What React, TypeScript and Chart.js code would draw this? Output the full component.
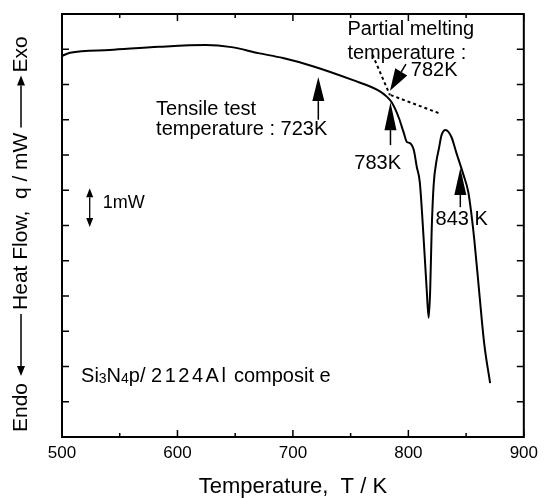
import React, { useEffect, useRef } from "react";
import { Chart, registerables } from "chart.js";

Chart.register(...registerables);

// DSC curve: temperature (K) and heat flow (arbitrary mW offset)
const temperatures = [
  500, 506.9, 541.2, 584.1, 624.5, 646.8, 670.0, 691.4, 717.2, 751.5, 774.7,
  781.5, 785.8, 791.8, 796.1, 798.7, 801.3, 804.7, 807.3, 809.9, 813.3, 815.9,
  817.6, 818.9, 820.2, 821.9, 824.5, 826.2, 828.8, 832.2, 837.3, 841.6, 847.6,
  851.9, 854.5, 857.1, 861.4, 865.7, 870.8,
];
const heatFlow = [
  10.81, 10.9, 10.98, 11.07, 11.12, 11.06, 10.89, 10.75, 10.52, 10.13, 9.82,
  9.65, 9.48, 9.05, 8.62, 8.37, 8.34, 8.14, 7.66, 7.23, 5.59, 4.17,
  3.38, 4.17, 5.87, 7.15, 7.86, 8.14, 8.57, 8.71, 8.51, 8.06, 7.45,
  6.95, 6.35, 5.6, 4.1, 2.65, 1.53,
];
// dotted tangent lines (onset construction)
const baselineTangentT = [784.7, 826.2];
const baselineTangentV = [9.7, 9.19];
const slopeTangentT = [769, 784];
const slopeTangentV = [10.84, 9.7];

const xTickValues = [500, 600, 700, 800, 900];
const xMinorValues = [550, 650, 750, 850];
const yTickValues = [1, 2, 3, 4, 5, 6, 7, 8, 9, 10, 11];

const FONT = "'Liberation Sans', Arial, Helvetica, sans-serif";

function drawArrow(
  ctx: CanvasRenderingContext2D,
  x1: number, y1: number, x2: number, y2: number,
  headLen: number, headW: number, lw: number
) {
  const ang = Math.atan2(y2 - y1, x2 - x1);
  const bx = x2 - Math.cos(ang) * headLen;
  const by = y2 - Math.sin(ang) * headLen;
  ctx.beginPath();
  ctx.lineWidth = lw;
  ctx.moveTo(x1, y1);
  ctx.lineTo(bx, by);
  ctx.stroke();
  const nx = -Math.sin(ang) * headW / 2;
  const ny = Math.cos(ang) * headW / 2;
  ctx.beginPath();
  ctx.moveTo(x2, y2);
  ctx.lineTo(bx + nx, by + ny);
  ctx.lineTo(bx - nx, by - ny);
  ctx.closePath();
  ctx.fill();
}

const annotPlugin = {
  id: "annot",
  afterDatasetsDraw(chart: any) {
    const ctx: CanvasRenderingContext2D = chart.ctx;
    const xs = chart.scales.x;
    const ys = chart.scales.y;
    const X = (t: number) => xs.getPixelForValue(t);
    const Y = (v: number) => ys.getPixelForValue(v);
    const { left, right, top, bottom } = chart.chartArea;
    ctx.save();
    ctx.strokeStyle = "#000";
    ctx.fillStyle = "#000";
    // frame
    ctx.lineWidth = 2;
    ctx.strokeRect(left, top, right - left, bottom - top);
    // ticks
    ctx.lineWidth = 1.5;
    ctx.beginPath();
    for (const t of xTickValues) {
      const x = X(t);
      ctx.moveTo(x, bottom); ctx.lineTo(x, bottom - 7);
      ctx.moveTo(x, top); ctx.lineTo(x, top + 7);
    }
    for (const t of xMinorValues) {
      const x = X(t);
      ctx.moveTo(x, bottom); ctx.lineTo(x, bottom - 4);
      ctx.moveTo(x, top); ctx.lineTo(x, top + 4);
    }
    for (const v of yTickValues) {
      const y = Y(v);
      ctx.moveTo(left, y); ctx.lineTo(left + 7, y);
      ctx.moveTo(right, y); ctx.lineTo(right - 7, y);
    }
    ctx.stroke();

    // arrows
    drawArrow(ctx, X(722), Y(9.0), X(722), Y(10.21), 24, 12, 1.5);
    drawArrow(ctx, X(784.5), Y(8.28), X(784.5), Y(9.5), 28, 12, 1.5);
    drawArrow(ctx, X(845), Y(6.52), X(845), Y(7.63), 27, 12, 1.5);
    drawArrow(ctx, X(797.9), Y(10.58), X(784.1), Y(9.82), 22, 14, 1.5);
    // 1mW double arrow
    drawArrow(ctx, X(524), Y(6.5), X(524), Y(7.06), 9, 7, 1.3);
    drawArrow(ctx, X(524), Y(6.5), X(524), Y(5.96), 9, 7, 1.3);

    // labels
    ctx.textBaseline = "middle";
    ctx.textAlign = "left";
    ctx.font = `20px ${FONT}`;
    ctx.fillText("Tensile test", X(581.5), Y(9.28));
    ctx.fillText("temperature : 723K", X(581.5), Y(8.71));
    ctx.fillText("Partial melting", X(747.2), Y(11.57));
    ctx.fillText("temperature :", X(747.2), Y(10.89));
    ctx.fillText("782K", X(802.1), Y(10.41));
    ctx.fillText("783K", X(753.2), Y(7.77));
    ctx.fillText("843 K", X(823.6), Y(6.16));
    ctx.font = `18px ${FONT}`;
    ctx.fillText("1mW", X(535.2), Y(6.64));

    // composite label with small digits
    let cx = X(516.5);
    const cy = Y(1.76);
    ctx.textBaseline = "alphabetic";
    const base = cy + 7;
    const piece = (s: string, size: number, dy = 0, ls = 0) => {
      ctx.font = `${size}px ${FONT}`;
      (ctx as any).letterSpacing = `${ls}px`;
      ctx.fillText(s, cx, base + dy);
      cx += ctx.measureText(s).width;
    };
    piece("Si", 20);
    piece("3", 14, 1);
    piece("N", 20);
    piece("4", 14, 1);
    piece("p/ ", 20);
    piece("2124Al", 20, 0, 2.5);
    piece(" composit e", 20);
    (ctx as any).letterSpacing = "0px";

    // y-axis title, rotated, drawn bottom to top
    ctx.save();
    ctx.translate(21, 0);
    ctx.rotate(-Math.PI / 2);
    ctx.font = `21px ${FONT}`;
    ctx.textBaseline = "middle";
    ctx.textAlign = "left";
    let p = 432; // canvas y of current start (bottom)
    const txt = (s: string) => {
      ctx.fillText(s, -p, 0);
      p -= ctx.measureText(s).width;
    };
    txt("Endo");
    p -= 7;
    drawArrow(ctx, -(p - 62), 0, -p, 0, 10, 8, 1.5);
    p -= 66;
    txt("Heat Flow,  q / mW");
    p -= 5;
    drawArrow(ctx, -p, 0, -(p - 52), 0, 10, 8, 1.5);
    p -= 55;
    txt("Exo");
    ctx.restore();

    ctx.restore();
  },
};

export default function App() {
  const ref = useRef<HTMLCanvasElement | null>(null);
  useEffect(() => {
    if (!ref.current) return;
    const curve = temperatures.map((t, i) => ({ x: t, y: heatFlow[i] }));
    const tan1 = baselineTangentT.map((t, i) => ({ x: t, y: baselineTangentV[i] }));
    const tan2 = slopeTangentT.map((t, i) => ({ x: t, y: slopeTangentV[i] }));
    const chart = new Chart(ref.current, {
      type: "line",
      data: {
        datasets: [
          {
            data: curve,
            borderColor: "#000",
            borderWidth: 2,
            pointRadius: 0,
            cubicInterpolationMode: "monotone",
          },
          {
            data: tan1,
            borderColor: "#000",
            borderWidth: 2,
            borderDash: [3, 3],
            pointRadius: 0,
          },
          {
            data: tan2,
            borderColor: "#000",
            borderWidth: 2,
            borderDash: [3, 3],
            pointRadius: 0,
          },
        ],
      },
      options: {
        responsive: false,
        animation: false,
        layout: { padding: { top: 14, right: 16, left: 0, bottom: 0 } },
        plugins: { legend: { display: false }, tooltip: { enabled: false } },
        scales: {
          x: {
            type: "linear",
            min: 500,
            max: 900,
            ticks: {
              stepSize: 100,
              color: "#000",
              font: { family: FONT, size: 17 },
              padding: 6,
              maxRotation: 0,
            },
            grid: { display: false, drawTicks: false },
            border: { display: false },
            title: {
              display: true,
              text: "Temperature,  T / K",
              color: "#000",
              font: { family: FONT, size: 22 },
              padding: { top: 0, bottom: -2 },
            },
            afterFit: (s: any) => {
              s.height = 61;
            },
          },
          y: {
            type: "linear",
            min: 0,
            max: 12,
            ticks: { display: false, stepSize: 1 },
            grid: { display: false, drawTicks: false },
            border: { display: false },
            afterFit: (s: any) => {
              s.width = 62;
            },
          },
        },
      },
      plugins: [annotPlugin],
    } as any);
    return () => chart.destroy();
  }, []);
  return (
    <div style={{ position: "absolute", left: 0, top: 0, width: 544, height: 498, background: "#fff" }}>
      <canvas ref={ref} width={544} height={498} style={{ display: "block" }} />
    </div>
  );
}
